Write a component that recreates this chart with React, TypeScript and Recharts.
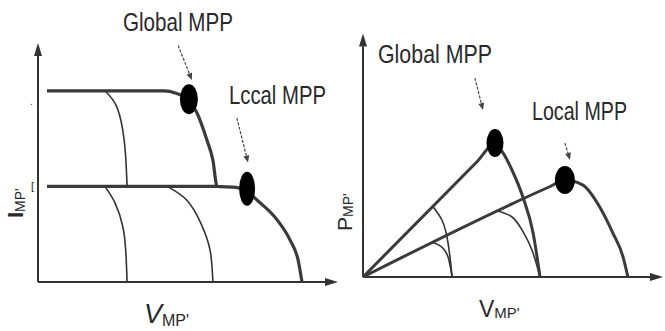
import { LineChart, Line, XAxis, YAxis, ReferenceLine, ReferenceDot } from 'recharts'

// I-V panel (left): voltage and current as % of the axis length
const ivMain = [
  { v: 3, i: 80 }, { v: 42, i: 80 }, { v: 46, i: 79 }, { v: 50.3, i: 76 },
  { v: 53, i: 70.7 }, { v: 56.3, i: 59.4 }, { v: 58.3, i: 51 }, { v: 59.7, i: 40 },
  { v: 66, i: 39.6 }, { v: 69.7, i: 38 }, { v: 73, i: 34.3 }, { v: 79.7, i: 26 },
  { v: 84, i: 17.6 }, { v: 86.7, i: 9.2 }, { v: 88, i: 0 },
]
const ivLowerFlat = [{ v: 3, i: 40 }, { v: 59.7, i: 40 }]
const ivThinTop = [
  { v: 22.3, i: 80 }, { v: 26, i: 74 }, { v: 28.2, i: 64 }, { v: 29.2, i: 53 }, { v: 29.7, i: 40 },
]
const ivThinLow1 = [
  { v: 22.3, i: 40 }, { v: 25.7, i: 33 }, { v: 28.3, i: 23 }, { v: 29.3, i: 12 }, { v: 29.7, i: 0 },
]
const ivThinLow2 = [
  { v: 43, i: 40 }, { v: 49.7, i: 34.1 }, { v: 54.5, i: 24 }, { v: 57.4, i: 13 }, { v: 58.3, i: 0 },
]
const ivMpp = [{ v: 50.3, i: 76.5 }, { v: 69.7, i: 39 }]

// P-V panel (right)
const pvGlobal = [
  { v: 0, p: 0 }, { v: 38, p: 48 }, { v: 44, p: 55.5 }, { v: 46.5, p: 52 },
  { v: 49.5, p: 45 }, { v: 53.3, p: 33.3 }, { v: 56.7, p: 18.3 }, { v: 59, p: 0 },
]
const pvLocal = [
  { v: 0, p: 0 }, { v: 62, p: 37.5 }, { v: 67.3, p: 40.4 }, { v: 73.3, p: 38.3 },
  { v: 79, p: 29 }, { v: 83.3, p: 18.3 }, { v: 86.7, p: 8.3 }, { v: 88.3, p: 0 },
]
const pvThinA = [
  { v: 23.3, p: 29.4 }, { v: 26.3, p: 23.75 }, { v: 28, p: 16.7 }, { v: 29, p: 8.3 }, { v: 29.7, p: 0 },
]
const pvThinB = [
  { v: 23.3, p: 14.4 }, { v: 26, p: 12.8 }, { v: 28.3, p: 8.5 }, { v: 29.7, p: 0 },
]
const pvThinC = [
  { v: 45, p: 27.5 }, { v: 49.7, p: 25 }, { v: 53, p: 19.6 }, { v: 56.3, p: 11.25 }, { v: 59, p: 0 },
]
const pvMpp = [{ v: 44, p: 55.8 }, { v: 67.3, p: 40.4 }]

const INK = '#333'
const BOLD = '#3a3a3a'
const FONT = "'Liberation Sans', Arial, sans-serif"

function ArrowLine(props: any) {
  const { x1, y1, x2, y2, color, width, dash, len, half } = props
  const a = Math.atan2(y2 - y1, x2 - x1)
  const bx = x2 - len * Math.cos(a)
  const by = y2 - len * Math.sin(a)
  const px = -Math.sin(a) * half
  const py = Math.cos(a) * half
  return (
    <g>
      <line x1={x1} y1={y1} x2={bx} y2={by} stroke={color} strokeWidth={width} strokeDasharray={dash} />
      <polygon points={`${x2},${y2} ${bx + px},${by + py} ${bx - px},${by - py}`} fill={color} />
    </g>
  )
}

const axisArrow = (p: any) => <ArrowLine {...p} color={INK} width={2} len={13} half={4} />
const pointer = (p: any) => <ArrowLine {...p} color="#444" width={1.2} dash="3 1.5" len={7} half={3} />
const blob = (rx: number, ry: number) => (p: any) => <ellipse cx={p.cx} cy={p.cy} rx={rx} ry={ry} fill="#000" />

export default function App() {
  return (
    <div style={{ position: 'absolute', left: 0, top: 0, width: 665, height: 331, background: '#fff', overflow: 'hidden' }}>
      <div style={{ position: 'absolute', left: 0, top: 0 }}>
        <LineChart width={340} height={331} margin={{ left: 38, right: 2, top: 43, bottom: 49 }}>
          <XAxis type="number" dataKey="v" domain={[0, 100]} hide />
          <YAxis type="number" dataKey="i" domain={[0, 100]} hide />
          <ReferenceLine segment={[{ x: 0, y: 0 }, { x: 0, y: 100 }]} ifOverflow="visible" shape={axisArrow} />
          <ReferenceLine segment={[{ x: 0, y: 0 }, { x: 100, y: 0 }]} ifOverflow="visible" shape={axisArrow} />
          <Line data={ivThinTop} dataKey="i" type="natural" stroke={INK} strokeWidth={1.6} dot={false} isAnimationActive={false} />
          <Line data={ivThinLow1} dataKey="i" type="natural" stroke={INK} strokeWidth={1.6} dot={false} isAnimationActive={false} />
          <Line data={ivThinLow2} dataKey="i" type="natural" stroke={INK} strokeWidth={1.6} dot={false} isAnimationActive={false} />
          <Line data={ivLowerFlat} dataKey="i" type="linear" stroke={BOLD} strokeWidth={3.2} dot={false} isAnimationActive={false} />
          <Line data={ivMain} dataKey="i" type="monotone" stroke={BOLD} strokeWidth={3.2} dot={false} isAnimationActive={false} />
          <ReferenceLine segment={[{ x: 46.7, y: 99 }, { x: 51.3, y: 84.5 }]} ifOverflow="visible" shape={pointer} />
          <ReferenceLine segment={[{ x: 66.3, y: 68.6 }, { x: 70, y: 50 }]} ifOverflow="visible" shape={pointer} />
          <ReferenceDot x={ivMpp[0].v} y={ivMpp[0].i} ifOverflow="visible" shape={blob(9, 15)} />
          <ReferenceDot x={ivMpp[1].v} y={ivMpp[1].i} ifOverflow="visible" shape={blob(8, 17)} />
        </LineChart>
      </div>
      <div style={{ position: 'absolute', left: 340, top: 0 }}>
        <LineChart width={325} height={331} margin={{ left: 23, right: 2, top: 37, bottom: 54 }}>
          <XAxis type="number" dataKey="v" domain={[0, 100]} hide />
          <YAxis type="number" dataKey="p" domain={[0, 100]} hide />
          <ReferenceLine segment={[{ x: 0, y: 0 }, { x: 0, y: 101.5 }]} ifOverflow="visible" shape={axisArrow} />
          <ReferenceLine segment={[{ x: 0, y: 0 }, { x: 100, y: 0 }]} ifOverflow="visible" shape={axisArrow} />
          <Line data={pvThinA} dataKey="p" type="natural" stroke={INK} strokeWidth={1.6} dot={false} isAnimationActive={false} />
          <Line data={pvThinB} dataKey="p" type="natural" stroke={INK} strokeWidth={1.6} dot={false} isAnimationActive={false} />
          <Line data={pvThinC} dataKey="p" type="natural" stroke={INK} strokeWidth={1.6} dot={false} isAnimationActive={false} />
          <Line data={pvGlobal} dataKey="p" type="monotone" stroke={BOLD} strokeWidth={3} dot={false} isAnimationActive={false} />
          <Line data={pvLocal} dataKey="p" type="monotone" stroke={BOLD} strokeWidth={3} dot={false} isAnimationActive={false} />
          <ReferenceLine segment={[{ x: 37.3, y: 82.9 }, { x: 40, y: 69.6 }]} ifOverflow="visible" shape={pointer} />
          <ReferenceLine segment={[{ x: 67.3, y: 55.8 }, { x: 69, y: 48.8 }]} ifOverflow="visible" shape={pointer} />
          <ReferenceDot x={pvMpp[0].v} y={pvMpp[0].p} ifOverflow="visible" shape={blob(8.5, 14)} />
          <ReferenceDot x={pvMpp[1].v} y={pvMpp[1].p} ifOverflow="visible" shape={blob(10, 14)} />
        </LineChart>
      </div>
      <svg width={665} height={331} style={{ position: 'absolute', left: 0, top: 0, pointerEvents: 'none' }} fontFamily={FONT} fill="#2a2a2a">
        <text x={123} y={31} fontSize={25} textLength={110} lengthAdjust="spacingAndGlyphs">Global MPP</text>
        <text x={229} y={104} fontSize={25} textLength={97} lengthAdjust="spacingAndGlyphs">Lccal MPP</text>
        <text x={378} y={63} fontSize={26} textLength={114} lengthAdjust="spacingAndGlyphs">Global MPP</text>
        <text x={532} y={120} fontSize={26} textLength={95} lengthAdjust="spacingAndGlyphs">Local MPP</text>
        <text x={30} y={105} fontSize={10}>.</text>
        <text x={31} y={190} fontSize={11}>[</text>
        <text x={144} y={323} fontSize={27} fontStyle="italic">V<tspan fontSize={16} fontStyle="normal" dy={3}>MP'</tspan></text>
        <text x={479} y={317} fontSize={23}>V<tspan fontSize={15} dy={1}>MP'</tspan></text>
        <text transform="translate(23, 218) rotate(-90)" fontSize={22} fontWeight="bold">I<tspan fontSize={14} fontWeight="normal" dy={2}>MP'</tspan></text>
        <text transform="translate(352, 231) rotate(-90)" fontSize={21}>P<tspan fontSize={14} dy={1}>MP'</tspan></text>
      </svg>
    </div>
  )
}
